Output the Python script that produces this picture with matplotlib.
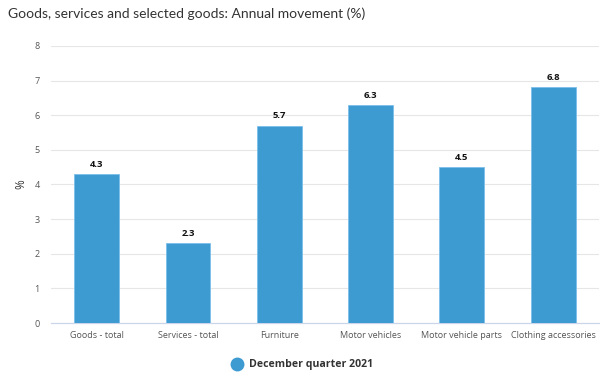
import matplotlib.pyplot as plt
from matplotlib.lines import Line2D

categories = ["Goods - total", "Services - total", "Furniture", "Motor vehicles",
              "Motor vehicle parts", "Clothing accessories"]
values = [4.3, 2.3, 5.7, 6.3, 4.5, 6.8]
series_name = "December quarter 2021"
title = "Goods, services and selected goods: Annual movement (%)"

plt.rcParams['font.family'] = ['Open Sans', 'DejaVu Sans']

bar_color = "#3d9bd2"

fig = plt.figure(figsize=(6, 3.73), dpi=100)
ax = fig.add_axes([0.085, 0.134, 0.913, 0.743])

x = range(len(categories))
bars = ax.bar(x, values, width=0.49, color=bar_color, edgecolor="#7cc0ea", linewidth=0.6, zorder=3)

for xi, v in zip(x, values):
    ax.text(xi, v + 0.15, f"{v}", ha="center", va="bottom", fontsize=6.8,
            fontweight="bold", color="#111111", zorder=4)

ax.set_xlim(-0.5, len(categories) - 0.5)
ax.set_ylim(0, 8)
ax.set_yticks(range(0, 9))
ax.yaxis.grid(True, color="#e6e6e6", linewidth=0.8, zorder=0)
ax.set_xticks(list(x))
ax.set_xticklabels(categories)
ax.tick_params(axis="both", length=0, labelsize=6.5, colors="#555555")
ax.tick_params(axis="x", pad=6)
ax.tick_params(axis="y", pad=8)

for s in ["top", "right", "left"]:
    ax.spines[s].set_visible(False)
ax.spines["bottom"].set_color("#ccd6eb")
ax.spines["bottom"].set_linewidth(0.9)

ax.set_ylabel("%", fontsize=8.5, color="#333333", labelpad=5)

fig.text(0.013, 0.962, title, fontsize=10, color="#333333", va="center", ha="left",
         family=["Lato", "DejaVu Sans"])

handle = Line2D([], [], marker="o", linestyle="", markersize=9, color=bar_color)
fig.legend([handle], [series_name], loc="center", bbox_to_anchor=(0.5, 0.022),
           frameon=False, handletextpad=0.1, prop={"size": 7.6, "weight": "bold"},
           labelcolor="#333333")

fig.savefig("out.png", dpi=100)
